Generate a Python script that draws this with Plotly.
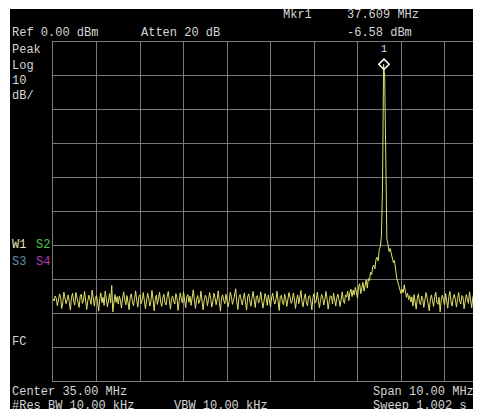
import numpy as np
import plotly.graph_objects as go

freq_start_mhz = 30.0
freq_stop_mhz = 40.0
ref_level_dbm = 0.0
db_per_div = 10
marker_freq_mhz = 37.609
marker_level_dbm = -6.58

trace_levels_dbm = [
    -75.8, -76.4, -74.9, -75.6, -77.8, -76.1, -74.3, -75.2, -78.6, -76.9, -73.8, -75.5, -77.2, -76.0, -74.6, -76.8, -79.1, -75.3, -74.1, -76.5,
    -77.6, -73.9, -75.1, -76.7, -78.3, -75.0, -74.4, -77.1, -76.2, -73.6, -75.8, -78.9, -76.3, -74.7, -75.9, -77.4, -73.2, -76.1, -77.9, -75.4,
    -74.8, -76.6, -79.4, -75.7, -74.0, -76.9, -75.3, -77.7, -73.5, -75.6, -78.1, -76.4, -74.2, -77.0, -71.8, -79.6, -75.9, -74.5, -76.8, -75.1,
    -77.3, -74.9, -76.2, -78.5, -75.5, -73.7, -76.0, -77.5, -74.8, -76.7, -79.0, -75.2, -74.3, -76.5, -77.8, -75.7, -73.4, -76.3, -78.2, -75.0,
    -74.6, -77.2, -76.1, -73.9, -75.8, -78.7, -76.4, -74.1, -75.5, -77.9, -76.6, -73.3, -75.9, -79.3, -76.0, -74.7, -77.4, -75.3, -73.8, -76.8,
    -78.0, -75.6, -74.4, -76.9, -77.6, -75.1, -73.6, -76.2, -78.8, -75.7, -74.9, -76.5, -77.3, -74.2, -75.4, -79.2, -76.7, -74.0, -75.8, -77.0,
    -73.7, -76.3, -78.4, -75.2, -74.5, -76.8, -75.0, -77.7, -74.3, -73.1, -76.1, -78.6, -75.9, -74.8, -77.1, -76.4, -73.5, -75.6, -79.0, -76.2,
    -74.7, -75.3, -77.8, -76.0, -73.9, -75.7, -78.2, -76.6, -74.1, -75.4, -77.5, -75.8, -73.4, -76.9, -79.4, -75.5, -74.6, -76.3, -77.2, -74.4,
    -75.9, -78.1, -76.5, -73.8, -75.0, -77.4, -76.2, -74.9, -72.8, -76.7, -78.9, -75.3, -74.5, -76.1, -77.6, -75.7, -74.0, -76.8, -79.1, -75.2,
    -74.3, -76.4, -77.9, -75.6, -73.6, -76.0, -78.3, -75.1, -74.8, -77.0, -76.3, -73.7, -75.8, -78.5, -76.6, -74.2, -75.4, -77.7, -74.6, -76.9,
    -78.2, -75.5, -74.1, -76.2, -77.3, -75.9, -73.5, -76.5, -79.2, -75.0, -74.7, -76.8, -77.5, -74.4, -75.7, -78.0, -76.1, -73.9, -75.3, -77.1,
    -76.4, -74.0, -75.8, -78.6, -76.0, -74.6, -77.2, -75.2, -73.3, -76.7, -78.1, -75.6, -74.3, -76.9, -77.8, -75.1, -74.8, -76.3, -79.0, -75.4,
    -74.2, -77.0, -76.5, -73.8, -75.9, -78.4, -76.2, -74.5, -75.3, -77.6, -76.0, -73.6, -75.7, -78.8, -76.6, -74.9, -75.0, -77.3, -74.1, -76.8,
    -77.9, -75.4, -74.4, -76.1, -78.0, -75.8, -73.7, -76.4, -77.1, -74.6, -75.2, -73.5, -76.3, -74.0, -72.9, -75.1, -73.2, -74.6, -72.4, -73.8,
    -75.6, -72.1, -71.3, -74.2, -72.8, -70.9, -73.5, -71.7, -70.2, -72.6, -69.8, -70.4, -67.9, -68.6, -66.3, -65.8, -66.9, -64.1, -63.5, -64.6,
    -61.2, -60.4, -57.3, -43.0, -6.58, -10.3, -36.0, -58.2, -59.6, -61.8, -60.9, -62.7, -63.9, -65.1, -64.4, -67.2, -69.5, -70.8, -71.9, -73.1,
    -74.2, -72.9, -74.0, -71.6, -73.4, -75.3, -74.1, -76.0, -74.8, -76.7, -75.2, -77.9, -74.5, -76.3, -78.8, -75.6, -74.3, -76.9, -77.5, -74.9,
    -75.7, -78.3, -76.1, -73.9, -75.4, -77.7, -79.3, -75.8, -74.6, -76.5, -78.0, -75.0, -73.8, -76.8, -77.4, -75.3, -79.6, -76.2, -74.7, -75.9,
    -77.6, -74.2, -76.4, -78.5, -75.1, -73.6, -76.7, -77.9, -75.5, -74.4, -76.0, -78.2, -75.7, -73.9, -76.6, -77.3, -74.8, -75.2, -78.7, -76.1,
    -74.5, -75.8, -77.1, -73.7, -76.3, -78.4, -75.4, -74.1, -76.9, -77.8, -75.0, -73.4, -76.2, -78.0, -75.6, -74.9, -76.8, -77.2, -75.3, -74.6,
    -76.4,
]

header_texts = ["Mkr1", "37.609 MHz", "Ref 0.00 dBm", "Atten 20 dB", "-6.58 dBm"]
side_texts = ["Peak", "Log", "10", "dB/", "FC"]
footer_texts = ["Center 35.00 MHz", "Span 10.00 MHz", "#Res BW 10.00 kHz", "VBW 10.00 kHz", "Sweep 1.002 s"]

# ---- layout geometry ----
# The page body has an 8 px margin, so figure pixel = screen pixel - OFF.
OFF = 8
SW, SH = 481, 409                      # screen size
W, H = SW - OFF, SH - OFF              # figure size
S_PL, S_PT, S_PR, S_PB = 53, 42, 481, 381   # plot area on screen
PL, PT, PR, PB = S_PL - OFF, S_PT - OFF, S_PR - OFF, S_PB - OFF
div_px = 43.5
n_div = 10
x_visible_stop = freq_start_mhz + (freq_stop_mhz - freq_start_mhz) / n_div * (PR - PL) / div_px

def px(sx):
    return (sx - OFF - PL) / (PR - PL)

def py(sy):
    return (PB - (sy - OFF)) / (PB - PT)

freqs = np.linspace(freq_start_mhz, freq_stop_mhz, len(trace_levels_dbm))

FONT = "Liberation Mono"
TXT = "#d6d6d6"

fig = go.Figure()
fig.add_trace(go.Scatter(
    x=freqs, y=trace_levels_dbm, mode="lines",
    line=dict(color="#e2e26a", width=1), hoverinfo="skip", showlegend=False,
))
fig.add_trace(go.Scatter(
    x=[marker_freq_mhz], y=[marker_level_dbm], mode="markers",
    marker=dict(symbol="diamond-open", size=8, color="#ffffff", line=dict(width=1.5, color="#ffffff")),
    hoverinfo="skip", showlegend=False,
))

anns = []
def txt(s, sx, sy, color=TXT, anchor="left", size=12):
    anns.append(dict(text=s, x=px(sx), y=py(sy), xref="paper", yref="paper",
                     xanchor=anchor, yanchor="middle", showarrow=False,
                     font=dict(family=FONT, size=size, color=color), borderpad=0))

txt(header_texts[0], 282, 15)
txt(header_texts[1], 346, 15)
txt(header_texts[2], 11, 33)
txt(header_texts[3], 140, 33)
txt(header_texts[4], 346, 33)
txt(side_texts[0], 11, 50)
txt(side_texts[1], 11, 66)
txt(side_texts[2], 11, 81)
txt(side_texts[3], 11, 96)
txt(side_texts[4], 11, 342)
txt("W1", 11, 245, color="#e4e4b8")
txt("S2", 35, 245, color="#4cc04c")
txt("S3", 11, 262, color="#5a92b4")
txt("S4", 35, 262, color="#b33cb3")
txt(footer_texts[0], 11, 392)
txt(footer_texts[1], 372, 392)
txt(footer_texts[2], 11, 406)
txt(footer_texts[3], 173, 406)
txt(footer_texts[4], 372, 406)
anns.append(dict(text="1", x=marker_freq_mhz, y=marker_level_dbm, xref="x", yref="y",
                 xanchor="center", yanchor="middle", yshift=15, showarrow=False,
                 font=dict(family=FONT, size=10, color="#e0e0e0")))

fig.update_layout(
    width=W, height=H, autosize=False,
    margin=dict(l=PL, r=W - PR, t=PT, b=H - PB, pad=0),
    paper_bgcolor="#ffffff", plot_bgcolor="#000000",
    showlegend=False,
    annotations=anns,
    shapes=[dict(type="rect", xref="paper", yref="paper",
                 x0=px(10), x1=px(SW + 2), y0=py(SH + 2), y1=py(9),
                 fillcolor="#000000", line=dict(width=0), layer="below")],
)
grid = "#7a7a7a"
fig.update_xaxes(range=[freq_start_mhz, x_visible_stop], tick0=freq_start_mhz,
                 dtick=(freq_stop_mhz - freq_start_mhz) / n_div,
                 showgrid=True, gridcolor=grid, gridwidth=1, zeroline=False,
                 showticklabels=False, ticks="", showline=True, linecolor=grid,
                 linewidth=1, mirror=True)
fig.update_yaxes(range=[ref_level_dbm - n_div * db_per_div, ref_level_dbm], tick0=ref_level_dbm,
                 dtick=db_per_div, showgrid=True, gridcolor=grid, gridwidth=1,
                 zeroline=False, showticklabels=False, ticks="", showline=True,
                 linecolor=grid, linewidth=1, mirror=False)

fig.write_html("out.html", config={"displayModeBar": False})
